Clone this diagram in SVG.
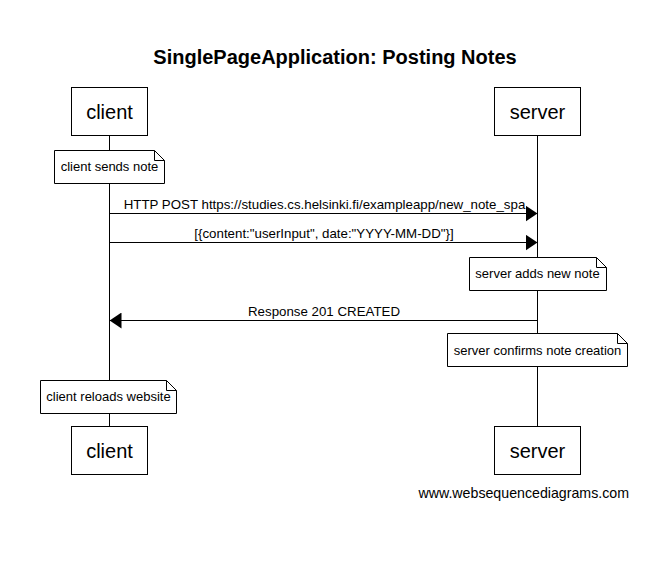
<svg xmlns="http://www.w3.org/2000/svg" width="651" height="567" viewBox="0 0 651 567">
<style>
text{font-family:"Liberation Sans",Arial,sans-serif;fill:#000}
.actor rect{fill:#fff;stroke:#000;stroke-width:1}
.actor text{font-size:20px;text-anchor:middle}
.note path{fill:#fff;stroke:#000;stroke-width:1}
.note text{font-size:13px;text-anchor:middle}
.life{stroke:#000;stroke-width:1}
.msg line{stroke:#000;stroke-width:1}
.msg text{font-size:13.3px;text-anchor:middle}
</style>
<defs>
<marker id="ah" markerWidth="12" markerHeight="16" refX="12" refY="8" orient="auto" markerUnits="userSpaceOnUse">
<path d="M0,0 L12,8 L0,16 Z" fill="#000"/>
</marker>
</defs>
<rect width="651" height="567" fill="#fff"/>
<text x="335" y="64" font-size="20" font-weight="bold" text-anchor="middle">SinglePageApplication: Posting Notes</text>
<g id="lifelines">
<line class="life" x1="109.5" y1="135" x2="109.5" y2="426"/>
<line class="life" x1="537.5" y1="135" x2="537.5" y2="426"/>
</g>
<g id="connectors" class="msg">
<line x1="109.5" y1="213.5" x2="537.5" y2="213.5" marker-end="url(#ah)"/>
<text x="324.5" y="209">HTTP POST https://studies.cs.helsinki.fi/exampleapp/new_note_spa</text>
<line x1="109.5" y1="242.5" x2="537.5" y2="242.5" marker-end="url(#ah)"/>
<text x="324" y="238">[{content:"userInput", date:"YYYY-MM-DD"}]</text>
<line x1="537.5" y1="320.5" x2="109.5" y2="320.5" marker-end="url(#ah)"/>
<text x="324" y="316">Response 201 CREATED</text>
</g>
<g id="client-top" class="actor"><rect x="71.5" y="87.5" width="76" height="48"/><text x="109.5" y="119">client</text></g>
<g id="server-top" class="actor"><rect x="494.5" y="87.5" width="86" height="48"/><text x="537.5" y="119">server</text></g>
<g id="client-bottom" class="actor"><rect x="71.5" y="426.5" width="76" height="48"/><text x="109.5" y="458">client</text></g>
<g id="server-bottom" class="actor"><rect x="494.5" y="426.5" width="86" height="48"/><text x="537.5" y="458">server</text></g>
<g id="note-client-sends" class="note"><path d="M54.5,150.5 H154.5 L164.5,160.5 V183.5 H54.5 Z M154.5,150.5 V160.5 H164.5"/><text x="109.5" y="171">client sends note</text></g>
<g id="note-server-adds" class="note"><path d="M469.5,257.5 H596.5 L606.5,267.5 V290.5 H469.5 Z M596.5,257.5 V267.5 H606.5"/><text x="537.5" y="278">server adds new note</text></g>
<g id="note-server-confirms" class="note"><path d="M447.5,333.5 H617.5 L627.5,343.5 V366.5 H447.5 Z M617.5,333.5 V343.5 H627.5"/><text x="537.5" y="355">server confirms note creation</text></g>
<g id="note-client-reloads" class="note"><path d="M40.5,380.5 H166.5 L176.5,390.5 V413.5 H40.5 Z M166.5,380.5 V390.5 H176.5"/><text x="108.5" y="401">client reloads website</text></g>
<text x="629" y="498" font-size="14.2" text-anchor="end">www.websequencediagrams.com</text>
</svg>
